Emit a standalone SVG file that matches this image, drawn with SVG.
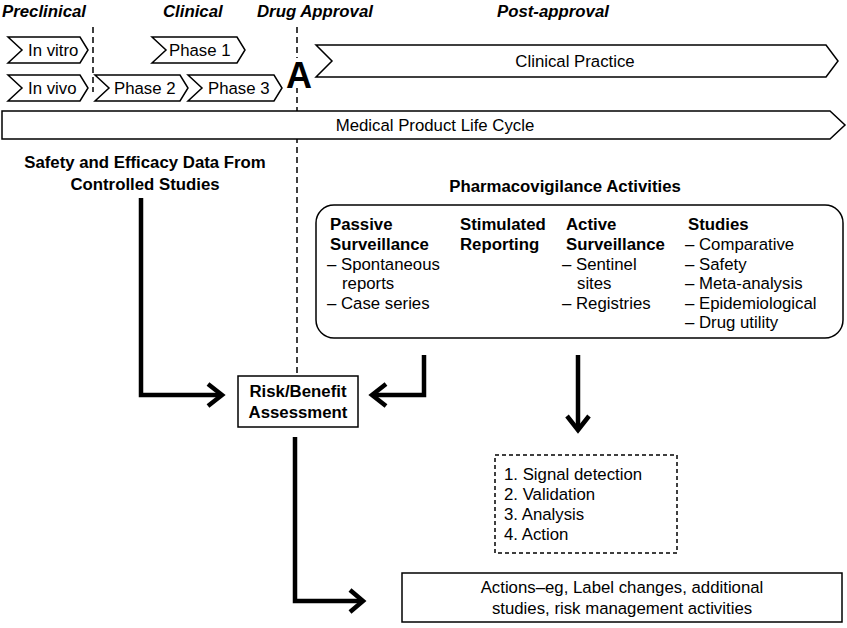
<svg xmlns="http://www.w3.org/2000/svg" width="847" height="628" viewBox="0 0 847 628">
<style>
text{font-family:"Liberation Sans",Arial,sans-serif;font-size:16.8px;fill:#000}
.h{font-weight:bold;font-style:italic;font-size:16.8px}
.b{font-weight:bold}
.c{text-anchor:middle}
.shp{fill:#fff;stroke:#000;stroke-width:1.5}
.dash{fill:none;stroke:#000;stroke-width:1.5;stroke-dasharray:6,4}
.ar{fill:none;stroke:#000;stroke-width:4.5}
</style>
<rect width="847" height="628" fill="#fff"/>
<text class="h" x="2" y="17">Preclinical</text>
<text class="h" x="163" y="17">Clinical</text>
<text class="h" x="257" y="17">Drug Approval</text>
<text class="h" x="497" y="17">Post-approval</text>
<g id="dashes">
<line class="dash" x1="93" y1="27" x2="93" y2="92"/>
<line class="dash" x1="297" y1="27" x2="297" y2="376"/>
</g>
<g id="invitro"><polygon class="shp" points="8,37 80,37 88,50 80,63 8,63 22,50"/><text x="28" y="56">In vitro</text></g>
<g id="invivo"><polygon class="shp" points="8,75 80,75 88,88 80,101 8,101 22,88"/><text x="28" y="94">In vivo</text></g>
<g id="phase1"><polygon class="shp" points="152,37 237,37 245,50 237,63 152,63 166,50"/><text x="169" y="56">Phase 1</text></g>
<g id="phase2"><polygon class="shp" points="95,75 180,75 188,88 180,101 95,101 109,88"/><text x="114" y="94">Phase 2</text></g>
<g id="phase3"><polygon class="shp" points="188,75 274,75 282,88 274,101 188,101 202,88"/><text x="208" y="94">Phase 3</text></g>
<g id="approvalA"><rect x="286" y="58" width="24" height="30" fill="#fff"/><text class="b" x="299" y="88" text-anchor="middle" style="font-size:36px">A</text></g>
<g id="practice"><polygon class="shp" points="316,45 826,45 838,61 826,77 316,77 332,61"/><text class="c" x="575" y="67">Clinical Practice</text></g>
<g id="lifecycle"><polygon class="shp" points="2,111 830,111 845,125 830,139 2,139"/><text class="c" x="435" y="131">Medical Product Life Cycle</text></g>
<g id="safety"><text class="b c" x="145" y="168">Safety and Efficacy Data From</text><text class="b c" x="145" y="190">Controlled Studies</text></g>
<g id="pv">
<text class="b c" x="565" y="192">Pharmacovigilance Activities</text>
<rect class="shp" x="316" y="205" width="527" height="133" rx="18"/>
<text class="b" x="330" y="230">Passive</text><text class="b" x="330" y="250">Surveillance</text>
<text x="327" y="270">– Spontaneous</text><text x="342" y="289">reports</text><text x="327" y="309">– Case series</text>
<text class="b" x="460" y="230">Stimulated</text><text class="b" x="460" y="250">Reporting</text>
<text class="b" x="566" y="230">Active</text><text class="b" x="566" y="250">Surveillance</text>
<text x="562" y="270">– Sentinel</text><text x="577" y="289">sites</text><text x="562" y="309">– Registries</text>
<text class="b" x="688" y="230">Studies</text>
<text x="685" y="250">– Comparative</text><text x="685" y="270">– Safety</text><text x="685" y="289">– Meta-analysis</text><text x="685" y="309">– Epidemiological</text><text x="685" y="328">– Drug utility</text>
</g>
<g id="risk"><rect class="shp" x="238" y="376" width="120" height="51"/><text class="b c" x="298" y="397">Risk/Benefit</text><text class="b c" x="298" y="418">Assessment</text></g>
<g id="signal"><rect class="dash" x="495" y="455" width="182" height="98" style="stroke-dasharray:4,3"/>
<text x="504" y="480">1. Signal detection</text><text x="504" y="500">2. Validation</text><text x="504" y="520">3. Analysis</text><text x="504" y="540">4. Action</text></g>
<g id="actions"><rect class="shp" x="402" y="573" width="440" height="49"/><text class="c" x="622" y="593">Actions–eg, Label changes, additional</text><text class="c" x="622" y="614">studies, risk management activities</text></g>
<g id="connectors">
<polyline class="ar" points="141,198 141,395 222,395"/><polyline class="ar" points="208,384 222,395 208,406"/>
<polyline class="ar" points="424,355 424,395 372,395"/><polyline class="ar" points="386,384 372,395 386,406"/>
<polyline class="ar" points="578,355 578,430"/><polyline class="ar" points="567,416 578,430 589,416"/>
<polyline class="ar" points="295,437 295,601 363,601"/><polyline class="ar" points="350,590 363,601 350,612"/>
</g>
</svg>
